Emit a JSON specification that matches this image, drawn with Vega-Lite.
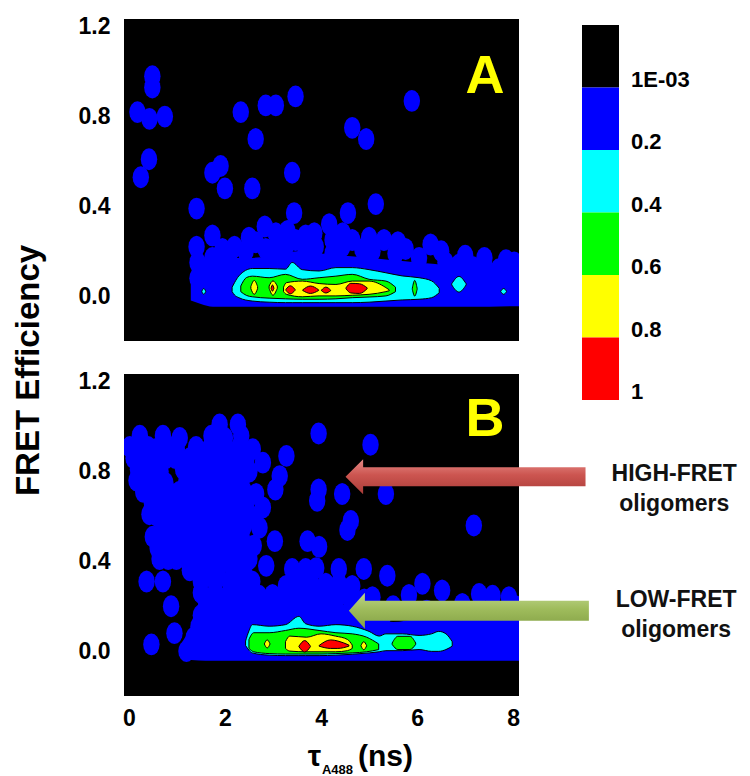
{
  "$schema": "https://vega.github.io/schema/vega-lite/v6.json",
  "background": "white",
  "padding": {"left": 12, "top": 15, "right": 2, "bottom": 0},
  "spacing": 33,
  "bounds": "flush",
  "config": {"font": "Liberation Sans", "view": {"stroke": null}},
  "datasets": {
    "colorbar": [
      {"label": "1E-03"}, {"label": "0.2"}, {"label": "0.4"},
      {"label": "0.6"}, {"label": "0.8"}, {"label": "1"}
    ],
    "blobs": [
      {"panel":"A","x":0.49,"y":0.98},{"panel":"A","x":0.49,"y":0.93},{"panel":"A","x":0.18,"y":0.82},{"panel":"A","x":0.43,"y":0.79},
      {"panel":"A","x":0.75,"y":0.80},{"panel":"A","x":0.42,"y":0.61},{"panel":"A","x":0.25,"y":0.53},
      {"panel":"A","x":2.33,"y":0.82},{"panel":"A","x":2.85,"y":0.85},{"panel":"A","x":3.06,"y":0.85},{"panel":"A","x":3.47,"y":0.89},
      {"panel":"A","x":5.89,"y":0.87},{"panel":"A","x":2.64,"y":0.70},{"panel":"A","x":4.65,"y":0.75},{"panel":"A","x":4.94,"y":0.70},
      {"panel":"A","x":1.91,"y":0.58},{"panel":"A","x":1.74,"y":0.55},{"panel":"A","x":2.0,"y":0.48},{"panel":"A","x":2.57,"y":0.48},
      {"panel":"A","x":3.40,"y":0.55},{"panel":"A","x":1.41,"y":0.39},{"panel":"A","x":3.44,"y":0.37},{"panel":"A","x":4.56,"y":0.37},
      {"panel":"A","x":5.14,"y":0.41},{"panel":"A","x":4.17,"y":0.32},{"panel":"A","x":2.83,"y":0.31},{"panel":"A","x":1.74,"y":0.27},
      {"panel":"A","x":1.41,"y":0.22},{"panel":"A","x":2.09,"y":0.18},{"panel":"A","x":2.43,"y":0.20},{"panel":"A","x":2.64,"y":0.24},
      {"panel":"A","x":2.85,"y":0.21},{"panel":"A","x":3.06,"y":0.28},{"panel":"A","x":3.06,"y":0.20},{"panel":"A","x":3.26,"y":0.22},
      {"panel":"A","x":3.47,"y":0.25},{"panel":"A","x":3.68,"y":0.27},{"panel":"A","x":3.68,"y":0.20},{"panel":"A","x":3.89,"y":0.22},
      {"panel":"A","x":4.24,"y":0.25},{"panel":"A","x":4.24,"y":0.19},{"panel":"A","x":4.44,"y":0.22},{"panel":"A","x":4.65,"y":0.25},
      {"panel":"A","x":4.86,"y":0.21},{"panel":"A","x":5.07,"y":0.20},{"panel":"A","x":5.31,"y":0.25},{"panel":"A","x":5.55,"y":0.19},
      {"panel":"A","x":5.76,"y":0.21},{"panel":"A","x":6.04,"y":0.17},{"panel":"A","x":6.28,"y":0.23},{"panel":"A","x":6.59,"y":0.15},
      {"panel":"A","x":6.87,"y":0.14},{"panel":"A","x":7.15,"y":0.13},{"panel":"A","x":7.43,"y":0.12},{"panel":"A","x":7.70,"y":0.12},
      {"panel":"A","x":8.02,"y":0.15},{"panel":"A","x":1.43,"y":0.15},{"panel":"A","x":1.43,"y":0.08},{"panel":"A","x":1.5,"y":0.03},
      {"panel":"A","x":1.74,"y":0.17},{"panel":"A","x":1.85,"y":0.12},
      {"panel":"A","x":2.5,"y":0.26},{"panel":"A","x":3.3,"y":0.29},{"panel":"A","x":3.86,"y":0.28},{"panel":"A","x":4.45,"y":0.28},
      {"panel":"A","x":5.0,"y":0.26},{"panel":"A","x":5.6,"y":0.24},{"panel":"A","x":6.5,"y":0.2},{"panel":"A","x":7.0,"y":0.18},
      {"panel":"A","x":7.4,"y":0.17},{"panel":"A","x":7.85,"y":0.16},{"panel":"A","x":2.2,"y":0.22},{"panel":"A","x":1.95,"y":0.21},

      {"panel":"B","x":1.89,"y":1.01},{"panel":"B","x":2.27,"y":1.01},
      {"panel":"B","x":0.23,"y":0.96},{"panel":"B","x":0.71,"y":0.96},{"panel":"B","x":1.06,"y":0.95},{"panel":"B","x":1.72,"y":0.96},
      {"panel":"B","x":2.0,"y":0.95},{"panel":"B","x":2.34,"y":0.96},
      {"panel":"B","x":0.02,"y":0.91},{"panel":"B","x":0.2,"y":0.90},{"panel":"B","x":0.40,"y":0.91},{"panel":"B","x":0.55,"y":0.90},
      {"panel":"B","x":0.71,"y":0.90},{"panel":"B","x":0.85,"y":0.91},{"panel":"B","x":1.0,"y":0.90},
      {"panel":"B","x":1.4,"y":0.91},{"panel":"B","x":1.7,"y":0.91},{"panel":"B","x":2.0,"y":0.91},{"panel":"B","x":2.3,"y":0.91},
      {"panel":"B","x":2.58,"y":0.90},{"panel":"B","x":3.28,"y":0.87},
      {"panel":"B","x":0.1,"y":0.86},{"panel":"B","x":0.25,"y":0.85},{"panel":"B","x":0.4,"y":0.86},{"panel":"B","x":0.6,"y":0.85},
      {"panel":"B","x":0.78,"y":0.86},{"panel":"B","x":0.97,"y":0.86},{"panel":"B","x":1.27,"y":0.86},
      {"panel":"B","x":1.55,"y":0.86},{"panel":"B","x":1.85,"y":0.86},{"panel":"B","x":2.15,"y":0.86},{"panel":"B","x":2.45,"y":0.86},
      {"panel":"B","x":2.79,"y":0.84},
      {"panel":"B","x":0.19,"y":0.81},{"panel":"B","x":0.35,"y":0.80},{"panel":"B","x":0.5,"y":0.81},{"panel":"B","x":0.66,"y":0.80},
      {"panel":"B","x":1.13,"y":0.81},{"panel":"B","x":1.4,"y":0.81},
      {"panel":"B","x":1.7,"y":0.81},{"panel":"B","x":2.0,"y":0.81},{"panel":"B","x":2.3,"y":0.81},{"panel":"B","x":2.51,"y":0.80},
      {"panel":"B","x":3.14,"y":0.78},
      {"panel":"B","x":0.16,"y":0.76},{"panel":"B","x":0.33,"y":0.75},{"panel":"B","x":0.5,"y":0.76},{"panel":"B","x":0.76,"y":0.75},
      {"panel":"B","x":1.2,"y":0.76},
      {"panel":"B","x":1.47,"y":0.76},{"panel":"B","x":1.75,"y":0.76},{"panel":"B","x":2.05,"y":0.76},{"panel":"B","x":2.35,"y":0.76},
      {"panel":"B","x":3.05,"y":0.72},
      {"panel":"B","x":0.3,"y":0.71},{"panel":"B","x":0.45,"y":0.70},{"panel":"B","x":0.6,"y":0.71},{"panel":"B","x":0.75,"y":0.70},
      {"panel":"B","x":0.9,"y":0.70},{"panel":"B","x":1.05,"y":0.71},{"panel":"B","x":1.2,"y":0.71},
      {"panel":"B","x":1.5,"y":0.71},{"panel":"B","x":1.8,"y":0.71},{"panel":"B","x":2.1,"y":0.71},{"panel":"B","x":2.4,"y":0.71},
      {"panel":"B","x":2.65,"y":0.70},
      {"panel":"B","x":0.48,"y":0.66},{"panel":"B","x":0.64,"y":0.66},{"panel":"B","x":0.8,"y":0.65},{"panel":"B","x":0.95,"y":0.66},
      {"panel":"B","x":1.1,"y":0.65},{"panel":"B","x":1.25,"y":0.66},{"panel":"B","x":1.55,"y":0.66},
      {"panel":"B","x":1.85,"y":0.66},{"panel":"B","x":2.15,"y":0.66},{"panel":"B","x":2.45,"y":0.66},{"panel":"B","x":2.79,"y":0.64},
      {"panel":"B","x":0.43,"y":0.61},{"panel":"B","x":0.6,"y":0.60},{"panel":"B","x":0.78,"y":0.61},{"panel":"B","x":0.95,"y":0.60},
      {"panel":"B","x":1.1,"y":0.61},{"panel":"B","x":1.4,"y":0.61},
      {"panel":"B","x":1.7,"y":0.61},{"panel":"B","x":2.0,"y":0.61},{"panel":"B","x":2.3,"y":0.61},{"panel":"B","x":2.55,"y":0.60},
      {"panel":"B","x":0.7,"y":0.56},{"panel":"B","x":0.92,"y":0.56},{"panel":"B","x":1.2,"y":0.56},{"panel":"B","x":1.5,"y":0.56},
      {"panel":"B","x":1.8,"y":0.56},
      {"panel":"B","x":2.1,"y":0.56},{"panel":"B","x":2.4,"y":0.56},{"panel":"B","x":2.72,"y":0.55},
      {"panel":"B","x":0.5,"y":0.51},{"panel":"B","x":0.68,"y":0.51},{"panel":"B","x":0.85,"y":0.51},{"panel":"B","x":1.0,"y":0.51},
      {"panel":"B","x":1.15,"y":0.51},{"panel":"B","x":1.45,"y":0.51},
      {"panel":"B","x":1.75,"y":0.51},{"panel":"B","x":2.05,"y":0.51},{"panel":"B","x":2.35,"y":0.51},{"panel":"B","x":3.04,"y":0.49},
      {"panel":"B","x":0.6,"y":0.46},{"panel":"B","x":0.75,"y":0.46},{"panel":"B","x":0.9,"y":0.46},{"panel":"B","x":1.05,"y":0.46},
      {"panel":"B","x":1.2,"y":0.46},{"panel":"B","x":1.5,"y":0.46},
      {"panel":"B","x":1.8,"y":0.46},{"panel":"B","x":2.1,"y":0.46},{"panel":"B","x":2.4,"y":0.46},{"panel":"B","x":2.6,"y":0.47},
      {"panel":"B","x":0.64,"y":0.41},{"panel":"B","x":0.82,"y":0.41},{"panel":"B","x":0.99,"y":0.41},{"panel":"B","x":1.2,"y":0.41},
      {"panel":"B","x":1.4,"y":0.41},{"panel":"B","x":1.7,"y":0.41},
      {"panel":"B","x":2.0,"y":0.41},{"panel":"B","x":2.3,"y":0.41},{"panel":"B","x":2.51,"y":0.41},
      {"panel":"B","x":1.27,"y":0.36},{"panel":"B","x":1.55,"y":0.36},{"panel":"B","x":1.85,"y":0.36},{"panel":"B","x":2.17,"y":0.36},
      {"panel":"B","x":2.4,"y":0.35},
      {"panel":"B","x":0.37,"y":0.31},{"panel":"B","x":0.71,"y":0.31},{"panel":"B","x":1.5,"y":0.31},{"panel":"B","x":1.8,"y":0.31},
      {"panel":"B","x":2.1,"y":0.31},{"panel":"B","x":2.38,"y":0.31},
      {"panel":"B","x":1.5,"y":0.26},{"panel":"B","x":1.8,"y":0.26},{"panel":"B","x":2.1,"y":0.26},{"panel":"B","x":2.35,"y":0.26},
      {"panel":"B","x":0.88,"y":0.20},{"panel":"B","x":1.61,"y":0.21},{"panel":"B","x":1.9,"y":0.21},{"panel":"B","x":2.2,"y":0.21},
      {"panel":"B","x":1.5,"y":0.16},{"panel":"B","x":1.8,"y":0.16},{"panel":"B","x":2.1,"y":0.16},{"panel":"B","x":2.4,"y":0.16},
      {"panel":"B","x":1.45,"y":0.11},{"panel":"B","x":1.75,"y":0.11},{"panel":"B","x":2.05,"y":0.11},
      {"panel":"B","x":1.35,"y":0.06},{"panel":"B","x":1.7,"y":0.06},{"panel":"B","x":2.0,"y":0.06},{"panel":"B","x":2.3,"y":0.06},
      {"panel":"B","x":0.95,"y":0.08},{"panel":"B","x":0.47,"y":0.03},{"panel":"B","x":1.20,"y":0.0},{"panel":"B","x":1.54,"y":0.03},
      {"panel":"B","x":3.95,"y":0.97},{"panel":"B","x":5.03,"y":0.92},{"panel":"B","x":3.95,"y":0.72},{"panel":"B","x":3.92,"y":0.67},
      {"panel":"B","x":4.44,"y":0.70},{"panel":"B","x":5.35,"y":0.70},{"panel":"B","x":4.62,"y":0.58},{"panel":"B","x":4.55,"y":0.54},
      {"panel":"B","x":7.18,"y":0.56},{"panel":"B","x":3.72,"y":0.49},{"panel":"B","x":3.96,"y":0.465},
      {"panel":"B","x":3.40,"y":0.366},{"panel":"B","x":3.68,"y":0.366},{"panel":"B","x":3.90,"y":0.37},{"panel":"B","x":4.37,"y":0.366},
      {"panel":"B","x":4.89,"y":0.366},{"panel":"B","x":5.38,"y":0.336},{"panel":"B","x":2.57,"y":0.31},{"panel":"B","x":3.27,"y":0.29},
      {"panel":"B","x":3.54,"y":0.31},{"panel":"B","x":3.82,"y":0.29},{"panel":"B","x":4.1,"y":0.30},{"panel":"B","x":4.37,"y":0.30},
      {"panel":"B","x":4.65,"y":0.29},{"panel":"B","x":2.86,"y":0.38},{"panel":"B","x":2.43,"y":0.247},{"panel":"B","x":2.71,"y":0.247},
      {"panel":"B","x":2.99,"y":0.25},{"panel":"B","x":3.27,"y":0.247},{"panel":"B","x":3.54,"y":0.25},{"panel":"B","x":3.82,"y":0.247},
      {"panel":"B","x":4.1,"y":0.25},{"panel":"B","x":4.37,"y":0.247},{"panel":"B","x":4.65,"y":0.24},{"panel":"B","x":4.9,"y":0.23},
      {"panel":"B","x":2.5,"y":0.19},{"panel":"B","x":2.8,"y":0.19},{"panel":"B","x":3.1,"y":0.20},{"panel":"B","x":3.4,"y":0.20},
      {"panel":"B","x":3.7,"y":0.20},{"panel":"B","x":4.0,"y":0.19},{"panel":"B","x":4.3,"y":0.19},{"panel":"B","x":4.6,"y":0.18},
      {"panel":"B","x":6.11,"y":0.30},{"panel":"B","x":6.52,"y":0.27},{"panel":"B","x":5.07,"y":0.24},{"panel":"B","x":5.83,"y":0.25},
      {"panel":"B","x":7.29,"y":0.255},{"panel":"B","x":7.57,"y":0.247},{"panel":"B","x":7.91,"y":0.24},{"panel":"B","x":6.94,"y":0.21},
      {"panel":"B","x":5.5,"y":0.20},{"panel":"B","x":6.2,"y":0.18},{"panel":"B","x":7.6,"y":0.18},{"panel":"B","x":8.05,"y":0.20},
      {"panel":"B","x":5.3,"y":0.16}
    ],
    "levels": [
      {"panel":"A","level":"0.2","piece":"Ab","x":1.29,"top":0.10,"bottom":-0.02},
      {"panel":"A","level":"0.2","piece":"Ab","x":1.5,"top":0.14,"bottom":-0.035},
      {"panel":"A","level":"0.2","piece":"Ab","x":1.75,"top":0.16,"bottom":-0.047},
      {"panel":"A","level":"0.2","piece":"Ab","x":2.0,"top":0.17,"bottom":-0.047},
      {"panel":"A","level":"0.2","piece":"Ab","x":2.5,"top":0.17,"bottom":-0.047},
      {"panel":"A","level":"0.2","piece":"Ab","x":3.0,"top":0.18,"bottom":-0.047},
      {"panel":"A","level":"0.2","piece":"Ab","x":3.5,"top":0.20,"bottom":-0.047},
      {"panel":"A","level":"0.2","piece":"Ab","x":4.0,"top":0.19,"bottom":-0.047},
      {"panel":"A","level":"0.2","piece":"Ab","x":4.5,"top":0.18,"bottom":-0.047},
      {"panel":"A","level":"0.2","piece":"Ab","x":5.0,"top":0.17,"bottom":-0.047},
      {"panel":"A","level":"0.2","piece":"Ab","x":5.5,"top":0.16,"bottom":-0.047},
      {"panel":"A","level":"0.2","piece":"Ab","x":6.0,"top":0.15,"bottom":-0.047},
      {"panel":"A","level":"0.2","piece":"Ab","x":6.5,"top":0.14,"bottom":-0.047},
      {"panel":"A","level":"0.2","piece":"Ab","x":7.0,"top":0.12,"bottom":-0.047},
      {"panel":"A","level":"0.2","piece":"Ab","x":7.5,"top":0.11,"bottom":-0.047},
      {"panel":"A","level":"0.2","piece":"Ab","x":8.0,"top":0.12,"bottom":-0.045},
      {"panel":"A","level":"0.2","piece":"Ab","x":8.12,"top":0.14,"bottom":-0.045},

      {"panel":"A","level":"0.4","piece":"Ac1","x":2.15,"top":0.04,"bottom":0.02},
      {"panel":"A","level":"0.4","piece":"Ac1","x":2.2,"top":0.06,"bottom":0.005},
      {"panel":"A","level":"0.4","piece":"Ac1","x":2.29,"top":0.09,"bottom":-0.007},
      {"panel":"A","level":"0.4","piece":"Ac1","x":2.57,"top":0.123,"bottom":-0.022},
      {"panel":"A","level":"0.4","piece":"Ac1","x":2.92,"top":0.123,"bottom":-0.027},
      {"panel":"A","level":"0.4","piece":"Ac1","x":3.26,"top":0.12,"bottom":-0.029},
      {"panel":"A","level":"0.4","piece":"Ac1","x":3.40,"top":0.15,"bottom":-0.029},
      {"panel":"A","level":"0.4","piece":"Ac1","x":3.61,"top":0.118,"bottom":-0.029},
      {"panel":"A","level":"0.4","piece":"Ac1","x":3.96,"top":0.112,"bottom":-0.029},
      {"panel":"A","level":"0.4","piece":"Ac1","x":4.31,"top":0.127,"bottom":-0.029},
      {"panel":"A","level":"0.4","piece":"Ac1","x":4.65,"top":0.127,"bottom":-0.029},
      {"panel":"A","level":"0.4","piece":"Ac1","x":5.0,"top":0.118,"bottom":-0.027},
      {"panel":"A","level":"0.4","piece":"Ac1","x":5.35,"top":0.104,"bottom":-0.022},
      {"panel":"A","level":"0.4","piece":"Ac1","x":5.69,"top":0.09,"bottom":-0.017},
      {"panel":"A","level":"0.4","piece":"Ac1","x":6.04,"top":0.082,"bottom":-0.014},
      {"panel":"A","level":"0.4","piece":"Ac1","x":6.3,"top":0.068,"bottom":-0.007},
      {"panel":"A","level":"0.4","piece":"Ac1","x":6.46,"top":0.035,"bottom":0.015},
      {"panel":"A","level":"0.4","piece":"Ac2","x":6.72,"top":0.055,"bottom":0.05},
      {"panel":"A","level":"0.4","piece":"Ac2","x":6.87,"top":0.088,"bottom":0.018},
      {"panel":"A","level":"0.4","piece":"Ac2","x":7.02,"top":0.055,"bottom":0.05},
      {"panel":"A","level":"0.4","piece":"Ac3","x":7.74,"top":0.022,"bottom":0.02},
      {"panel":"A","level":"0.4","piece":"Ac3","x":7.8,"top":0.034,"bottom":0.008},
      {"panel":"A","level":"0.4","piece":"Ac3","x":7.86,"top":0.022,"bottom":0.02},
      {"panel":"A","level":"0.4","piece":"Ac4","x":1.52,"top":0.022,"bottom":0.02},
      {"panel":"A","level":"0.4","piece":"Ac4","x":1.56,"top":0.034,"bottom":0.008},
      {"panel":"A","level":"0.4","piece":"Ac4","x":1.6,"top":0.022,"bottom":0.02},

      {"panel":"A","level":"0.6","piece":"Ag1","x":2.33,"top":0.045,"bottom":0.02},
      {"panel":"A","level":"0.6","piece":"Ag1","x":2.45,"top":0.083,"bottom":0.003},
      {"panel":"A","level":"0.6","piece":"Ag1","x":2.57,"top":0.089,"bottom":-0.003},
      {"panel":"A","level":"0.6","piece":"Ag1","x":2.92,"top":0.082,"bottom":-0.009},
      {"panel":"A","level":"0.6","piece":"Ag1","x":3.26,"top":0.097,"bottom":-0.012},
      {"panel":"A","level":"0.6","piece":"Ag1","x":3.61,"top":0.075,"bottom":-0.014},
      {"panel":"A","level":"0.6","piece":"Ag1","x":3.96,"top":0.082,"bottom":-0.014},
      {"panel":"A","level":"0.6","piece":"Ag1","x":4.31,"top":0.089,"bottom":-0.012},
      {"panel":"A","level":"0.6","piece":"Ag1","x":4.65,"top":0.097,"bottom":-0.007},
      {"panel":"A","level":"0.6","piece":"Ag1","x":5.0,"top":0.075,"bottom":-0.004},
      {"panel":"A","level":"0.6","piece":"Ag1","x":5.35,"top":0.067,"bottom":0.001},
      {"panel":"A","level":"0.6","piece":"Ag1","x":5.55,"top":0.04,"bottom":0.02},
      {"panel":"A","level":"0.6","piece":"Ag2","x":5.9,"top":0.035,"bottom":0.03},
      {"panel":"A","level":"0.6","piece":"Ag2","x":5.95,"top":0.07,"bottom":0.0},
      {"panel":"A","level":"0.6","piece":"Ag2","x":6.0,"top":0.035,"bottom":0.03},

      {"panel":"A","level":"0.8","piece":"Ay1","x":2.54,"top":0.043,"bottom":0.033},
      {"panel":"A","level":"0.8","piece":"Ay1","x":2.61,"top":0.07,"bottom":0.008},
      {"panel":"A","level":"0.8","piece":"Ay1","x":2.68,"top":0.043,"bottom":0.033},
      {"panel":"A","level":"0.8","piece":"Ay2","x":2.92,"top":0.045,"bottom":0.035},
      {"panel":"A","level":"0.8","piece":"Ay2","x":3.0,"top":0.068,"bottom":0.004},
      {"panel":"A","level":"0.8","piece":"Ay2","x":3.09,"top":0.045,"bottom":0.035},
      {"panel":"A","level":"0.8","piece":"Ay3","x":3.22,"top":0.04,"bottom":0.02},
      {"panel":"A","level":"0.8","piece":"Ay3","x":3.28,"top":0.06,"bottom":0.008},
      {"panel":"A","level":"0.8","piece":"Ay3","x":3.61,"top":0.067,"bottom":-0.003},
      {"panel":"A","level":"0.8","piece":"Ay3","x":3.96,"top":0.056,"bottom":0.001},
      {"panel":"A","level":"0.8","piece":"Ay3","x":4.31,"top":0.052,"bottom":0.001},
      {"panel":"A","level":"0.8","piece":"Ay3","x":4.65,"top":0.067,"bottom":0.004},
      {"panel":"A","level":"0.8","piece":"Ay3","x":5.0,"top":0.067,"bottom":0.008},
      {"panel":"A","level":"0.8","piece":"Ay3","x":5.35,"top":0.038,"bottom":0.02},
      {"panel":"A","level":"0.8","piece":"Ay3","x":5.42,"top":0.028,"bottom":0.024},

      {"panel":"A","level":"1","piece":"Ar1","x":3.27,"top":0.03,"bottom":0.026},
      {"panel":"A","level":"1","piece":"Ar1","x":3.36,"top":0.046,"bottom":0.01},
      {"panel":"A","level":"1","piece":"Ar1","x":3.46,"top":0.03,"bottom":0.026},
      {"panel":"A","level":"1","piece":"Ar2","x":3.62,"top":0.028,"bottom":0.025},
      {"panel":"A","level":"1","piece":"Ar2","x":3.78,"top":0.045,"bottom":0.012},
      {"panel":"A","level":"1","piece":"Ar2","x":3.95,"top":0.028,"bottom":0.025},
      {"panel":"A","level":"1","piece":"Ar3","x":4.01,"top":0.027,"bottom":0.024},
      {"panel":"A","level":"1","piece":"Ar3","x":4.1,"top":0.04,"bottom":0.014},
      {"panel":"A","level":"1","piece":"Ar3","x":4.2,"top":0.027,"bottom":0.024},
      {"panel":"A","level":"1","piece":"Ar4","x":4.52,"top":0.037,"bottom":0.033},
      {"panel":"A","level":"1","piece":"Ar4","x":4.62,"top":0.057,"bottom":0.014},
      {"panel":"A","level":"1","piece":"Ar4","x":4.8,"top":0.055,"bottom":0.012},
      {"panel":"A","level":"1","piece":"Ar4","x":4.96,"top":0.037,"bottom":0.033},
      {"panel":"A","level":"1","piece":"Ar5","x":2.96,"top":0.035,"bottom":0.035},
      {"panel":"A","level":"1","piece":"Ar5","x":2.99,"top":0.05,"bottom":0.022},
      {"panel":"A","level":"1","piece":"Ar5","x":3.02,"top":0.035,"bottom":0.035},

      {"panel":"B","level":"0.2","piece":"Bb","x":1.11,"top":0.04,"bottom":-0.02},
      {"panel":"B","level":"0.2","piece":"Bb","x":1.3,"top":0.10,"bottom":-0.04},
      {"panel":"B","level":"0.2","piece":"Bb","x":1.6,"top":0.14,"bottom":-0.043},
      {"panel":"B","level":"0.2","piece":"Bb","x":2.0,"top":0.16,"bottom":-0.043},
      {"panel":"B","level":"0.2","piece":"Bb","x":2.5,"top":0.17,"bottom":-0.043},
      {"panel":"B","level":"0.2","piece":"Bb","x":3.0,"top":0.18,"bottom":-0.043},
      {"panel":"B","level":"0.2","piece":"Bb","x":3.5,"top":0.19,"bottom":-0.043},
      {"panel":"B","level":"0.2","piece":"Bb","x":4.0,"top":0.19,"bottom":-0.043},
      {"panel":"B","level":"0.2","piece":"Bb","x":4.5,"top":0.18,"bottom":-0.043},
      {"panel":"B","level":"0.2","piece":"Bb","x":5.0,"top":0.15,"bottom":-0.043},
      {"panel":"B","level":"0.2","piece":"Bb","x":5.5,"top":0.13,"bottom":-0.043},
      {"panel":"B","level":"0.2","piece":"Bb","x":6.0,"top":0.14,"bottom":-0.043},
      {"panel":"B","level":"0.2","piece":"Bb","x":6.5,"top":0.14,"bottom":-0.043},
      {"panel":"B","level":"0.2","piece":"Bb","x":7.0,"top":0.15,"bottom":-0.043},
      {"panel":"B","level":"0.2","piece":"Bb","x":7.5,"top":0.16,"bottom":-0.043},
      {"panel":"B","level":"0.2","piece":"Bb","x":8.0,"top":0.16,"bottom":-0.043},
      {"panel":"B","level":"0.2","piece":"Bb","x":8.12,"top":0.17,"bottom":-0.043},

      {"panel":"B","level":"0.4","piece":"Bc1","x":2.43,"top":0.045,"bottom":0.025},
      {"panel":"B","level":"0.4","piece":"Bc1","x":2.5,"top":0.09,"bottom":0.004},
      {"panel":"B","level":"0.4","piece":"Bc1","x":2.57,"top":0.118,"bottom":-0.008},
      {"panel":"B","level":"0.4","piece":"Bc1","x":2.92,"top":0.111,"bottom":-0.018},
      {"panel":"B","level":"0.4","piece":"Bc1","x":3.26,"top":0.118,"bottom":-0.02},
      {"panel":"B","level":"0.4","piece":"Bc1","x":3.54,"top":0.155,"bottom":-0.02},
      {"panel":"B","level":"0.4","piece":"Bc1","x":3.68,"top":0.122,"bottom":-0.02},
      {"panel":"B","level":"0.4","piece":"Bc1","x":3.96,"top":0.111,"bottom":-0.02},
      {"panel":"B","level":"0.4","piece":"Bc1","x":4.31,"top":0.118,"bottom":-0.018},
      {"panel":"B","level":"0.4","piece":"Bc1","x":4.65,"top":0.111,"bottom":-0.014},
      {"panel":"B","level":"0.4","piece":"Bc1","x":5.0,"top":0.088,"bottom":-0.008},
      {"panel":"B","level":"0.4","piece":"Bc1","x":5.21,"top":0.067,"bottom":-0.003},
      {"panel":"B","level":"0.4","piece":"Bc1","x":5.35,"top":0.077,"bottom":0.002},
      {"panel":"B","level":"0.4","piece":"Bc1","x":5.69,"top":0.077,"bottom":0.002},
      {"panel":"B","level":"0.4","piece":"Bc1","x":6.04,"top":0.07,"bottom":0.007},
      {"panel":"B","level":"0.4","piece":"Bc1","x":6.3,"top":0.077,"bottom":-0.001},
      {"panel":"B","level":"0.4","piece":"Bc1","x":6.45,"top":0.088,"bottom":-0.001},
      {"panel":"B","level":"0.4","piece":"Bc1","x":6.6,"top":0.077,"bottom":0.007},
      {"panel":"B","level":"0.4","piece":"Bc1","x":6.73,"top":0.042,"bottom":0.022},

      {"panel":"B","level":"0.6","piece":"Bg1","x":2.5,"top":0.052,"bottom":0.012},
      {"panel":"B","level":"0.6","piece":"Bg1","x":2.6,"top":0.082,"bottom":-0.003},
      {"panel":"B","level":"0.6","piece":"Bg1","x":2.92,"top":0.082,"bottom":-0.011},
      {"panel":"B","level":"0.6","piece":"Bg1","x":3.26,"top":0.092,"bottom":-0.013},
      {"panel":"B","level":"0.6","piece":"Bg1","x":3.54,"top":0.102,"bottom":-0.013},
      {"panel":"B","level":"0.6","piece":"Bg1","x":3.96,"top":0.092,"bottom":-0.013},
      {"panel":"B","level":"0.6","piece":"Bg1","x":4.31,"top":0.082,"bottom":-0.011},
      {"panel":"B","level":"0.6","piece":"Bg1","x":4.65,"top":0.077,"bottom":-0.008},
      {"panel":"B","level":"0.6","piece":"Bg1","x":4.95,"top":0.062,"bottom":-0.003},
      {"panel":"B","level":"0.6","piece":"Bg1","x":5.2,"top":0.032,"bottom":0.007},
      {"panel":"B","level":"0.6","piece":"Bg2","x":5.48,"top":0.036,"bottom":0.03},
      {"panel":"B","level":"0.6","piece":"Bg2","x":5.6,"top":0.066,"bottom":0.007},
      {"panel":"B","level":"0.6","piece":"Bg2","x":5.85,"top":0.066,"bottom":0.007},
      {"panel":"B","level":"0.6","piece":"Bg2","x":5.97,"top":0.036,"bottom":0.03},

      {"panel":"B","level":"0.8","piece":"By1","x":3.26,"top":0.042,"bottom":0.012},
      {"panel":"B","level":"0.8","piece":"By1","x":3.35,"top":0.067,"bottom":0.0},
      {"panel":"B","level":"0.8","piece":"By1","x":3.7,"top":0.062,"bottom":-0.003},
      {"panel":"B","level":"0.8","piece":"By1","x":4.0,"top":0.077,"bottom":-0.003},
      {"panel":"B","level":"0.8","piece":"By1","x":4.3,"top":0.067,"bottom":-0.003},
      {"panel":"B","level":"0.8","piece":"By1","x":4.55,"top":0.052,"bottom":0.002},
      {"panel":"B","level":"0.8","piece":"By1","x":4.65,"top":0.027,"bottom":0.012},
      {"panel":"B","level":"0.8","piece":"By2","x":2.82,"top":0.032,"bottom":0.032},
      {"panel":"B","level":"0.8","piece":"By2","x":2.88,"top":0.05,"bottom":0.014},
      {"panel":"B","level":"0.8","piece":"By2","x":2.94,"top":0.032,"bottom":0.032},
      {"panel":"B","level":"0.8","piece":"By3","x":4.83,"top":0.024,"bottom":0.024},
      {"panel":"B","level":"0.8","piece":"By3","x":4.89,"top":0.042,"bottom":0.006},
      {"panel":"B","level":"0.8","piece":"By3","x":4.95,"top":0.024,"bottom":0.024},

      {"panel":"B","level":"1","piece":"Br1","x":3.54,"top":0.022,"bottom":0.02},
      {"panel":"B","level":"1","piece":"Br1","x":3.66,"top":0.047,"bottom":-0.004},
      {"panel":"B","level":"1","piece":"Br1","x":3.78,"top":0.022,"bottom":0.02},
      {"panel":"B","level":"1","piece":"Br2","x":3.96,"top":0.025,"bottom":0.022},
      {"panel":"B","level":"1","piece":"Br2","x":4.2,"top":0.05,"bottom":0.012},
      {"panel":"B","level":"1","piece":"Br2","x":4.35,"top":0.045,"bottom":0.012},
      {"panel":"B","level":"1","piece":"Br2","x":4.58,"top":0.027,"bottom":0.022}
    ]
  },
  "vconcat": [
    {
      "width": 395,
      "height": 322,
      "view": {"fill": "#000000", "stroke": null},
      "resolve": {"scale": {"x": "independent", "y": "independent"}},
      "layer": [
        {
          "layer": [
            {
              "data": {"name": "blobs"},
              "transform": [{"filter": "datum.panel == 'A'"}],
              "mark": {"type": "point", "shape": "M0.75,0L0.693,0.383L0.53,0.707L0.287,0.924L0,1L-0.287,0.924L-0.53,0.707L-0.693,0.383L-0.75,0L-0.693,-0.383L-0.53,-0.707L-0.287,-0.924L0,-1L0.287,-0.924L0.53,-0.707L0.693,-0.383Z", "size": 480, "filled": true, "color": "#0000ff", "opacity": 1, "strokeWidth": 0, "clip": true},
              "encoding": {
                "x": {"field": "x", "type": "quantitative", "scale": {"domain": [-0.1, 8.12], "nice": false, "zero": false}, "axis": null},
                "y": {"field": "y", "type": "quantitative", "scale": {"domain": [-0.2, 1.235], "nice": false, "zero": false},
                  "axis": {"values": [0, 0.4, 0.8, 1.2], "format": ".1f", "ticks": false, "tickSize": 0, "domain": false, "grid": false,
                    "labelFontSize": 23, "labelFontWeight": "bold", "labelColor": "#000000", "labelPadding": 14,
                    "title": "FRET Efficiency", "titleX": -96, "titleY": 351, "titleAngle": 270, "titleAlign": "center", "titleBaseline": "middle",
                    "titleFontSize": 33, "titleFontWeight": "bold", "titleColor": "#000000"}}
              }
            },
            {
              "data": {"name": "levels"},
              "transform": [{"filter": "datum.panel == 'A' && datum.level == '0.2'"}],
              "mark": {"type": "area", "interpolate": "monotone", "clip": true},
              "encoding": {
                "x": {"field": "x", "type": "quantitative", "scale": {"domain": [-0.1, 8.12], "nice": false, "zero": false}},
                "y": {"field": "top", "type": "quantitative", "stack": null, "scale": {"domain": [-0.2, 1.235], "nice": false, "zero": false}},
                "y2": {"field": "bottom"},
                "color": {"field": "level", "type": "nominal", "legend": null, "scale": {"domain": ["1E-03", "0.2", "0.4", "0.6", "0.8", "1"], "range": ["#000000", "#0000ff", "#00ffff", "#00ff00", "#ffff00", "#ff0000"]}},
                "detail": {"field": "piece"}
              }
            },
            {
              "data": {"name": "levels"},
              "transform": [{"filter": "datum.panel == 'A' && datum.level == '0.4'"}],
              "mark": {"type": "area", "interpolate": "monotone", "stroke": "#000000", "strokeWidth": 1, "clip": true},
              "encoding": {
                "x": {"field": "x", "type": "quantitative", "scale": {"domain": [-0.1, 8.12], "nice": false, "zero": false}},
                "y": {"field": "top", "type": "quantitative", "stack": null, "scale": {"domain": [-0.2, 1.235], "nice": false, "zero": false}},
                "y2": {"field": "bottom"},
                "color": {"field": "level", "type": "nominal", "legend": null, "scale": {"domain": ["1E-03", "0.2", "0.4", "0.6", "0.8", "1"], "range": ["#000000", "#0000ff", "#00ffff", "#00ff00", "#ffff00", "#ff0000"]}},
                "detail": {"field": "piece"}
              }
            },
            {
              "data": {"name": "levels"},
              "transform": [{"filter": "datum.panel == 'A' && datum.level == '0.6'"}],
              "mark": {"type": "area", "interpolate": "monotone", "stroke": "#000000", "strokeWidth": 1, "clip": true},
              "encoding": {
                "x": {"field": "x", "type": "quantitative", "scale": {"domain": [-0.1, 8.12], "nice": false, "zero": false}},
                "y": {"field": "top", "type": "quantitative", "stack": null, "scale": {"domain": [-0.2, 1.235], "nice": false, "zero": false}},
                "y2": {"field": "bottom"},
                "color": {"field": "level", "type": "nominal", "legend": null, "scale": {"domain": ["1E-03", "0.2", "0.4", "0.6", "0.8", "1"], "range": ["#000000", "#0000ff", "#00ffff", "#00ff00", "#ffff00", "#ff0000"]}},
                "detail": {"field": "piece"}
              }
            },
            {
              "data": {"name": "levels"},
              "transform": [{"filter": "datum.panel == 'A' && datum.level == '0.8'"}],
              "mark": {"type": "area", "interpolate": "monotone", "stroke": "#000000", "strokeWidth": 1, "clip": true},
              "encoding": {
                "x": {"field": "x", "type": "quantitative", "scale": {"domain": [-0.1, 8.12], "nice": false, "zero": false}},
                "y": {"field": "top", "type": "quantitative", "stack": null, "scale": {"domain": [-0.2, 1.235], "nice": false, "zero": false}},
                "y2": {"field": "bottom"},
                "color": {"field": "level", "type": "nominal", "legend": null, "scale": {"domain": ["1E-03", "0.2", "0.4", "0.6", "0.8", "1"], "range": ["#000000", "#0000ff", "#00ffff", "#00ff00", "#ffff00", "#ff0000"]}},
                "detail": {"field": "piece"}
              }
            },
            {
              "data": {"name": "levels"},
              "transform": [{"filter": "datum.panel == 'A' && datum.level == '1'"}],
              "mark": {"type": "area", "interpolate": "monotone", "stroke": "#000000", "strokeWidth": 1, "clip": true},
              "encoding": {
                "x": {"field": "x", "type": "quantitative", "scale": {"domain": [-0.1, 8.12], "nice": false, "zero": false}},
                "y": {"field": "top", "type": "quantitative", "stack": null, "scale": {"domain": [-0.2, 1.235], "nice": false, "zero": false}},
                "y2": {"field": "bottom"},
                "color": {"field": "level", "type": "nominal", "legend": null, "scale": {"domain": ["1E-03", "0.2", "0.4", "0.6", "0.8", "1"], "range": ["#000000", "#0000ff", "#00ffff", "#00ff00", "#ffff00", "#ff0000"]}},
                "detail": {"field": "piece"}
              }
            },
            {
              "data": {"values": [{"tag": "A"}]},
              "mark": {"type": "text", "fontSize": 54, "fontWeight": "bold", "color": "#ffff00", "align": "center", "baseline": "alphabetic"},
              "encoding": {
                "x": {"datum": 7.41, "type": "quantitative", "scale": {"domain": [-0.1, 8.12], "nice": false, "zero": false}},
                "y": {"datum": 0.905, "type": "quantitative", "scale": {"domain": [-0.2, 1.235], "nice": false, "zero": false}},
                "text": {"field": "tag"}
              }
            }
          ]
        },
        {
          "data": {"name": "colorbar"},
          "layer": [
            {
              "mark": {"type": "rect"},
              "encoding": {
                "y": {"field": "label", "type": "ordinal", "axis": null, "scale": {"domain": ["1E-03", "0.2", "0.4", "0.6", "0.8", "1"], "range": [6, 381], "paddingInner": 0, "paddingOuter": 0}},
                "x": {"datum": 0, "type": "quantitative", "axis": null, "scale": {"domain": [0, 1], "range": [458, 495]}},
                "x2": {"datum": 1},
                "color": {"field": "label", "type": "nominal", "legend": null, "scale": {"domain": ["1E-03", "0.2", "0.4", "0.6", "0.8", "1"], "range": ["#000000", "#0000ff", "#00ffff", "#00ff00", "#ffff00", "#ff0000"]}}
              }
            },
            {
              "mark": {"type": "text", "align": "left", "baseline": "middle", "dx": 12, "dy": -8, "fontSize": 22, "fontWeight": "bold", "color": "#000000"},
              "encoding": {
                "y": {"field": "label", "type": "ordinal", "axis": null, "bandPosition": 1, "scale": {"domain": ["1E-03", "0.2", "0.4", "0.6", "0.8", "1"], "range": [6, 381], "paddingInner": 0, "paddingOuter": 0}},
                "x": {"datum": 1, "type": "quantitative", "axis": null, "scale": {"domain": [0, 1], "range": [458, 495]}},
                "text": {"field": "label"}
              }
            }
          ]
        }
      ]
    },
    {
      "width": 395,
      "height": 322,
      "view": {"fill": "#000000", "stroke": null},
      "layer": [
        {
          "data": {"name": "blobs"},
          "transform": [{"filter": "datum.panel == 'B'"}],
          "mark": {"type": "point", "shape": "M0.75,0L0.693,0.383L0.53,0.707L0.287,0.924L0,1L-0.287,0.924L-0.53,0.707L-0.693,0.383L-0.75,0L-0.693,-0.383L-0.53,-0.707L-0.287,-0.924L0,-1L0.287,-0.924L0.53,-0.707L0.693,-0.383Z", "size": 480, "filled": true, "color": "#0000ff", "opacity": 1, "strokeWidth": 0, "clip": true},
          "encoding": {
            "x": {"field": "x", "type": "quantitative", "scale": {"domain": [-0.1, 8.12], "nice": false, "zero": false},
              "axis": {"values": [0, 2, 4, 6, 8], "format": "d", "ticks": false, "tickSize": 0, "domain": false, "grid": false,
                "labelFontSize": 23, "labelFontWeight": "bold", "labelColor": "#000000", "labelPadding": 11, "title": null}},
            "y": {"field": "y", "type": "quantitative", "scale": {"domain": [-0.2, 1.235], "nice": false, "zero": false},
              "axis": {"values": [0, 0.4, 0.8, 1.2], "format": ".1f", "ticks": false, "tickSize": 0, "domain": false, "grid": false,
                "labelFontSize": 23, "labelFontWeight": "bold", "labelColor": "#000000", "labelPadding": 14, "title": null}}
          }
        },
        {
          "data": {"name": "levels"},
          "transform": [{"filter": "datum.panel == 'B' && datum.level == '0.2'"}],
          "mark": {"type": "area", "interpolate": "monotone", "clip": true},
          "encoding": {
            "x": {"field": "x", "type": "quantitative", "scale": {"domain": [-0.1, 8.12], "nice": false, "zero": false}},
            "y": {"field": "top", "type": "quantitative", "stack": null, "scale": {"domain": [-0.2, 1.235], "nice": false, "zero": false}},
            "y2": {"field": "bottom"},
            "color": {"field": "level", "type": "nominal", "legend": null, "scale": {"domain": ["1E-03", "0.2", "0.4", "0.6", "0.8", "1"], "range": ["#000000", "#0000ff", "#00ffff", "#00ff00", "#ffff00", "#ff0000"]}},
            "detail": {"field": "piece"}
          }
        },
        {
          "data": {"name": "levels"},
          "transform": [{"filter": "datum.panel == 'B' && datum.level == '0.4'"}],
          "mark": {"type": "area", "interpolate": "monotone", "stroke": "#000000", "strokeWidth": 1, "clip": true},
          "encoding": {
            "x": {"field": "x", "type": "quantitative", "scale": {"domain": [-0.1, 8.12], "nice": false, "zero": false}},
            "y": {"field": "top", "type": "quantitative", "stack": null, "scale": {"domain": [-0.2, 1.235], "nice": false, "zero": false}},
            "y2": {"field": "bottom"},
            "color": {"field": "level", "type": "nominal", "legend": null, "scale": {"domain": ["1E-03", "0.2", "0.4", "0.6", "0.8", "1"], "range": ["#000000", "#0000ff", "#00ffff", "#00ff00", "#ffff00", "#ff0000"]}},
            "detail": {"field": "piece"}
          }
        },
        {
          "data": {"name": "levels"},
          "transform": [{"filter": "datum.panel == 'B' && datum.level == '0.6'"}],
          "mark": {"type": "area", "interpolate": "monotone", "stroke": "#000000", "strokeWidth": 1, "clip": true},
          "encoding": {
            "x": {"field": "x", "type": "quantitative", "scale": {"domain": [-0.1, 8.12], "nice": false, "zero": false}},
            "y": {"field": "top", "type": "quantitative", "stack": null, "scale": {"domain": [-0.2, 1.235], "nice": false, "zero": false}},
            "y2": {"field": "bottom"},
            "color": {"field": "level", "type": "nominal", "legend": null, "scale": {"domain": ["1E-03", "0.2", "0.4", "0.6", "0.8", "1"], "range": ["#000000", "#0000ff", "#00ffff", "#00ff00", "#ffff00", "#ff0000"]}},
            "detail": {"field": "piece"}
          }
        },
        {
          "data": {"name": "levels"},
          "transform": [{"filter": "datum.panel == 'B' && datum.level == '0.8'"}],
          "mark": {"type": "area", "interpolate": "monotone", "stroke": "#000000", "strokeWidth": 1, "clip": true},
          "encoding": {
            "x": {"field": "x", "type": "quantitative", "scale": {"domain": [-0.1, 8.12], "nice": false, "zero": false}},
            "y": {"field": "top", "type": "quantitative", "stack": null, "scale": {"domain": [-0.2, 1.235], "nice": false, "zero": false}},
            "y2": {"field": "bottom"},
            "color": {"field": "level", "type": "nominal", "legend": null, "scale": {"domain": ["1E-03", "0.2", "0.4", "0.6", "0.8", "1"], "range": ["#000000", "#0000ff", "#00ffff", "#00ff00", "#ffff00", "#ff0000"]}},
            "detail": {"field": "piece"}
          }
        },
        {
          "data": {"name": "levels"},
          "transform": [{"filter": "datum.panel == 'B' && datum.level == '1'"}],
          "mark": {"type": "area", "interpolate": "monotone", "stroke": "#000000", "strokeWidth": 1, "clip": true},
          "encoding": {
            "x": {"field": "x", "type": "quantitative", "scale": {"domain": [-0.1, 8.12], "nice": false, "zero": false}},
            "y": {"field": "top", "type": "quantitative", "stack": null, "scale": {"domain": [-0.2, 1.235], "nice": false, "zero": false}},
            "y2": {"field": "bottom"},
            "color": {"field": "level", "type": "nominal", "legend": null, "scale": {"domain": ["1E-03", "0.2", "0.4", "0.6", "0.8", "1"], "range": ["#000000", "#0000ff", "#00ffff", "#00ff00", "#ffff00", "#ff0000"]}},
            "detail": {"field": "piece"}
          }
        },
        {
          "data": {"values": [{"tag": "B"}]},
          "mark": {"type": "text", "fontSize": 54, "fontWeight": "bold", "color": "#ffff00", "align": "center", "baseline": "alphabetic"},
          "encoding": {
            "x": {"datum": 7.41, "type": "quantitative", "scale": {"domain": [-0.1, 8.12], "nice": false, "zero": false}},
            "y": {"datum": 0.96, "type": "quantitative", "scale": {"domain": [-0.2, 1.235], "nice": false, "zero": false}},
            "text": {"field": "tag"}
          }
        },
        {
          "data": {"values": [{"group": "HIGH-FRET oligomers"}]},
          "mark": {"type": "point", "shape": "M0,0L0.88,-0.88L0.88,-0.48L12,-0.48L12,0.48L0.88,0.48L0.88,0.88Z", "size": 1600, "filled": true, "opacity": 1, "strokeWidth": 0,
            "fill": {"gradient": "linear", "x1": 0, "y1": 0, "x2": 0, "y2": 1, "stops": [{"offset": 0, "color": "#e58a86"}, {"offset": 0.45, "color": "#cc5550"}, {"offset": 1, "color": "#a93c38"}]}},
          "encoding": {
            "x": {"datum": 4.51, "type": "quantitative", "scale": {"domain": [-0.1, 8.12], "nice": false, "zero": false}},
            "y": {"datum": 0.777, "type": "quantitative", "scale": {"domain": [-0.2, 1.235], "nice": false, "zero": false}}
          }
        },
        {
          "data": {"values": [{"group": "LOW-FRET oligomers"}]},
          "mark": {"type": "point", "shape": "M0,0L0.8,-0.9L0.8,-0.5L12,-0.5L12,0.5L0.8,0.5L0.8,0.9Z", "size": 1600, "filled": true, "opacity": 1, "strokeWidth": 0,
            "fill": {"gradient": "linear", "x1": 0, "y1": 0, "x2": 0, "y2": 1, "stops": [{"offset": 0, "color": "#bed58a"}, {"offset": 0.45, "color": "#9fbc5c"}, {"offset": 1, "color": "#84a145"}]}},
          "encoding": {
            "x": {"datum": 4.58, "type": "quantitative", "scale": {"domain": [-0.1, 8.12], "nice": false, "zero": false}},
            "y": {"datum": 0.18, "type": "quantitative", "scale": {"domain": [-0.2, 1.235], "nice": false, "zero": false}}
          }
        },
        {
          "data": {"values": [{"note": "HIGH-FRET oligomers"}]},
          "mark": {"type": "text", "text": ["HIGH-FRET", "oligomers"], "lineHeight": 30, "fontSize": 23, "fontWeight": "bold", "color": "#111111", "align": "center", "baseline": "alphabetic"},
          "encoding": {
            "x": {"datum": 11.35, "type": "quantitative", "scale": {"domain": [-0.1, 8.12], "nice": false, "zero": false}},
            "y": {"datum": 0.758, "type": "quantitative", "scale": {"domain": [-0.2, 1.235], "nice": false, "zero": false}}
          }
        },
        {
          "data": {"values": [{"note": "LOW-FRET oligomers"}]},
          "mark": {"type": "text", "text": ["LOW-FRET", "oligomers"], "lineHeight": 30, "fontSize": 23, "fontWeight": "bold", "color": "#111111", "align": "center", "baseline": "alphabetic"},
          "encoding": {
            "x": {"datum": 11.39, "type": "quantitative", "scale": {"domain": [-0.1, 8.12], "nice": false, "zero": false}},
            "y": {"datum": 0.197, "type": "quantitative", "scale": {"domain": [-0.2, 1.235], "nice": false, "zero": false}}
          }
        },
        {
          "data": {"values": [{"part": "τ"}]},
          "mark": {"type": "text", "fontSize": 30, "fontWeight": "bold", "color": "#000000", "align": "right", "baseline": "alphabetic"},
          "encoding": {
            "x": {"datum": 4.0, "type": "quantitative", "scale": {"domain": [-0.1, 8.12], "nice": false, "zero": false}},
            "y": {"datum": -0.512, "type": "quantitative", "scale": {"domain": [-0.2, 1.235], "nice": false, "zero": false}},
            "text": {"field": "part"}
          }
        },
        {
          "data": {"values": [{"part": "A488"}]},
          "mark": {"type": "text", "fontSize": 13, "fontWeight": "bold", "color": "#000000", "align": "left", "baseline": "alphabetic"},
          "encoding": {
            "x": {"datum": 4.02, "type": "quantitative", "scale": {"domain": [-0.1, 8.12], "nice": false, "zero": false}},
            "y": {"datum": -0.547, "type": "quantitative", "scale": {"domain": [-0.2, 1.235], "nice": false, "zero": false}},
            "text": {"field": "part"}
          }
        },
        {
          "data": {"values": [{"part": "(ns)"}]},
          "mark": {"type": "text", "fontSize": 30, "fontWeight": "bold", "color": "#000000", "align": "left", "baseline": "alphabetic"},
          "encoding": {
            "x": {"datum": 4.77, "type": "quantitative", "scale": {"domain": [-0.1, 8.12], "nice": false, "zero": false}},
            "y": {"datum": -0.512, "type": "quantitative", "scale": {"domain": [-0.2, 1.235], "nice": false, "zero": false}},
            "text": {"field": "part"}
          }
        }
      ]
    }
  ]
}
